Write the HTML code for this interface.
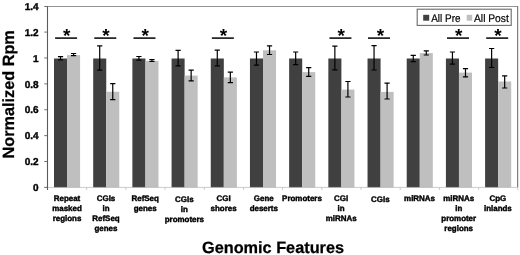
<!DOCTYPE html>
<html lang="en"><head><meta charset="utf-8"><title>Genomic Features</title>
<style>html,body{margin:0;padding:0;background:#fff}body{width:520px;height:255px;overflow:hidden}svg{display:block;filter:blur(0.45px)}text{font-family:"Liberation Sans",sans-serif;fill:#000;text-rendering:geometricPrecision}.b{font-weight:bold;stroke:#000;stroke-width:0.25px}</style>
</head><body>
<svg width="520" height="255" viewBox="0 0 520 255">
<rect x="0" y="0" width="520" height="255" fill="#ffffff"/>
<path d="M47.5 6.5H517.8" fill="none" stroke="#787878" stroke-width="0.8"/>
<path d="M517.70 6.2V187.4" fill="none" stroke="#626262" stroke-width="1"/>
<rect x="54.00" y="58.5" width="13.05" height="128.90" fill="#404040"/>
<rect x="67.05" y="55.1" width="13.05" height="132.30" fill="#bfbfbf"/>
<rect x="93.19" y="58.5" width="13.05" height="128.90" fill="#404040"/>
<rect x="106.24" y="91.7" width="13.05" height="95.70" fill="#bfbfbf"/>
<rect x="132.38" y="58.5" width="13.05" height="128.90" fill="#404040"/>
<rect x="145.43" y="60.9" width="13.05" height="126.50" fill="#bfbfbf"/>
<rect x="171.57" y="58.5" width="13.05" height="128.90" fill="#404040"/>
<rect x="184.62" y="75.6" width="13.05" height="111.80" fill="#bfbfbf"/>
<rect x="210.76" y="58.5" width="13.05" height="128.90" fill="#404040"/>
<rect x="223.81" y="77.4" width="13.05" height="110.00" fill="#bfbfbf"/>
<rect x="249.95" y="58.5" width="13.05" height="128.90" fill="#404040"/>
<rect x="263.00" y="50.3" width="13.05" height="137.10" fill="#bfbfbf"/>
<rect x="289.15" y="58.5" width="13.05" height="128.90" fill="#404040"/>
<rect x="302.20" y="72.1" width="13.05" height="115.30" fill="#bfbfbf"/>
<rect x="328.34" y="58.5" width="13.05" height="128.90" fill="#404040"/>
<rect x="341.39" y="89.6" width="13.05" height="97.80" fill="#bfbfbf"/>
<rect x="367.53" y="58.5" width="13.05" height="128.90" fill="#404040"/>
<rect x="380.58" y="91.9" width="13.05" height="95.50" fill="#bfbfbf"/>
<rect x="406.72" y="58.5" width="13.05" height="128.90" fill="#404040"/>
<rect x="419.77" y="53.1" width="13.05" height="134.30" fill="#bfbfbf"/>
<rect x="445.91" y="58.5" width="13.05" height="128.90" fill="#404040"/>
<rect x="458.96" y="72.6" width="13.05" height="114.80" fill="#bfbfbf"/>
<rect x="485.10" y="58.5" width="13.05" height="128.90" fill="#404040"/>
<rect x="498.15" y="81.5" width="13.05" height="105.90" fill="#bfbfbf"/>
<path d="M44.3 187.4H517.8" fill="none" stroke="#a8a8a8" stroke-width="0.6"/>
<path d="M47.5 6.2V190.0" fill="none" stroke="#5a5a5a" stroke-width="1.1"/>
<path d="M44.3 187.40H47.5" stroke="#606060" stroke-width="0.9"/>
<text class="b" style="stroke-width:0.4px" x="38.6" y="191.10" font-size="10" text-anchor="end">0</text>
<path d="M44.3 161.51H47.5" stroke="#606060" stroke-width="0.9"/>
<text class="b" style="stroke-width:0.4px" x="38.6" y="165.21" font-size="10" text-anchor="end">0.2</text>
<path d="M44.3 135.63H47.5" stroke="#606060" stroke-width="0.9"/>
<text class="b" style="stroke-width:0.4px" x="38.6" y="139.33" font-size="10" text-anchor="end">0.4</text>
<path d="M44.3 109.74H47.5" stroke="#606060" stroke-width="0.9"/>
<text class="b" style="stroke-width:0.4px" x="38.6" y="113.44" font-size="10" text-anchor="end">0.6</text>
<path d="M44.3 83.86H47.5" stroke="#606060" stroke-width="0.9"/>
<text class="b" style="stroke-width:0.4px" x="38.6" y="87.56" font-size="10" text-anchor="end">0.8</text>
<path d="M44.3 57.97H47.5" stroke="#606060" stroke-width="0.9"/>
<text class="b" style="stroke-width:0.4px" x="38.6" y="61.67" font-size="10" text-anchor="end">1</text>
<path d="M44.3 32.09H47.5" stroke="#606060" stroke-width="0.9"/>
<text class="b" style="stroke-width:0.4px" x="38.6" y="35.79" font-size="10" text-anchor="end">1.2</text>
<path d="M44.3 6.50H47.5" stroke="#606060" stroke-width="0.9"/>
<text class="b" style="stroke-width:0.4px" x="38.6" y="9.90" font-size="10" text-anchor="end">1.4</text>
<path d="M86.69 187.4V190.0" stroke="#b4b4b4" stroke-width="0.7"/>
<path d="M125.88 187.4V190.0" stroke="#b4b4b4" stroke-width="0.7"/>
<path d="M165.07 187.4V190.0" stroke="#b4b4b4" stroke-width="0.7"/>
<path d="M204.27 187.4V190.0" stroke="#b4b4b4" stroke-width="0.7"/>
<path d="M243.46 187.4V190.0" stroke="#b4b4b4" stroke-width="0.7"/>
<path d="M282.65 187.4V190.0" stroke="#b4b4b4" stroke-width="0.7"/>
<path d="M321.84 187.4V190.0" stroke="#b4b4b4" stroke-width="0.7"/>
<path d="M361.03 187.4V190.0" stroke="#b4b4b4" stroke-width="0.7"/>
<path d="M400.22 187.4V190.0" stroke="#b4b4b4" stroke-width="0.7"/>
<path d="M439.42 187.4V190.0" stroke="#b4b4b4" stroke-width="0.7"/>
<path d="M478.61 187.4V190.0" stroke="#b4b4b4" stroke-width="0.7"/>
<path d="M517.80 187.4V190.0" stroke="#b4b4b4" stroke-width="0.7"/>
<path d="M60.52 56.7V59.8M57.92 56.7H63.12M57.92 59.8H63.12" fill="none" stroke="#000" stroke-width="1.2"/>
<path d="M73.57 53.5V55.7M70.97 53.5H76.17M70.97 55.7H76.17" fill="none" stroke="#000" stroke-width="1.2"/>
<path d="M55.10 38.1H77.10" stroke="#000" stroke-width="1.5"/>
<text class="b" style="stroke:none" x="66.80" y="41.5" font-size="19" text-anchor="middle">*</text>
<text class="b" style="stroke-width:0.4px" x="67.00" y="201.20" font-size="7.95" text-anchor="middle">Repeat</text>
<text class="b" style="stroke-width:0.4px" x="67.00" y="211.15" font-size="7.95" text-anchor="middle">masked</text>
<text class="b" style="stroke-width:0.4px" x="67.00" y="221.10" font-size="7.95" text-anchor="middle">regions</text>
<path d="M99.71 45.8V70.1M97.11 45.8H102.31M97.11 70.1H102.31" fill="none" stroke="#000" stroke-width="1.2"/>
<path d="M112.76 83.7V99.6M110.16 83.7H115.36M110.16 99.6H115.36" fill="none" stroke="#000" stroke-width="1.2"/>
<path d="M94.29 38.1H116.29" stroke="#000" stroke-width="1.5"/>
<text class="b" style="stroke:none" x="105.99" y="41.5" font-size="19" text-anchor="middle">*</text>
<text class="b" style="stroke-width:0.4px" x="105.99" y="201.20" font-size="7.95" text-anchor="middle">CGIs</text>
<text class="b" style="stroke-width:0.4px" x="105.99" y="211.15" font-size="7.95" text-anchor="middle">in</text>
<text class="b" style="stroke-width:0.4px" x="105.99" y="221.10" font-size="7.95" text-anchor="middle">RefSeq</text>
<text class="b" style="stroke-width:0.4px" x="105.99" y="231.05" font-size="7.95" text-anchor="middle">genes</text>
<path d="M138.90 56.5V60.2M136.30 56.5H141.50M136.30 60.2H141.50" fill="none" stroke="#000" stroke-width="1.2"/>
<path d="M151.95 59.5V61.4M149.35 59.5H154.55M149.35 61.4H154.55" fill="none" stroke="#000" stroke-width="1.2"/>
<path d="M133.48 38.1H155.48" stroke="#000" stroke-width="1.5"/>
<text class="b" style="stroke:none" x="145.18" y="41.5" font-size="19" text-anchor="middle">*</text>
<text class="b" style="stroke-width:0.4px" x="145.18" y="201.20" font-size="7.95" text-anchor="middle">RefSeq</text>
<text class="b" style="stroke-width:0.4px" x="145.18" y="211.15" font-size="7.95" text-anchor="middle">genes</text>
<path d="M178.10 50.4V65.9M175.50 50.4H180.70M175.50 65.9H180.70" fill="none" stroke="#000" stroke-width="1.2"/>
<path d="M191.15 70.2V80.9M188.55 70.2H193.75M188.55 80.9H193.75" fill="none" stroke="#000" stroke-width="1.2"/>
<text class="b" style="stroke-width:0.4px" x="184.37" y="201.90" font-size="7.95" text-anchor="middle">CGIs</text>
<text class="b" style="stroke-width:0.4px" x="184.37" y="211.85" font-size="7.95" text-anchor="middle">in</text>
<text class="b" style="stroke-width:0.4px" x="184.37" y="221.80" font-size="7.95" text-anchor="middle">promoters</text>
<path d="M217.29 50.1V65.8M214.69 50.1H219.89M214.69 65.8H219.89" fill="none" stroke="#000" stroke-width="1.2"/>
<path d="M230.34 72.1V82.7M227.74 72.1H232.94M227.74 82.7H232.94" fill="none" stroke="#000" stroke-width="1.2"/>
<path d="M211.86 38.1H233.86" stroke="#000" stroke-width="1.5"/>
<text class="b" style="stroke:none" x="223.56" y="41.5" font-size="19" text-anchor="middle">*</text>
<text class="b" style="stroke-width:0.4px" x="223.56" y="201.20" font-size="7.95" text-anchor="middle">CGI</text>
<text class="b" style="stroke-width:0.4px" x="223.56" y="211.15" font-size="7.95" text-anchor="middle">shores</text>
<path d="M256.48 52.0V65.1M253.88 52.0H259.08M253.88 65.1H259.08" fill="none" stroke="#000" stroke-width="1.2"/>
<path d="M269.53 45.9V54.5M266.93 45.9H272.13M266.93 54.5H272.13" fill="none" stroke="#000" stroke-width="1.2"/>
<text class="b" style="stroke-width:0.4px" x="263.75" y="201.20" font-size="7.95" text-anchor="middle">Gene</text>
<text class="b" style="stroke-width:0.4px" x="263.75" y="211.15" font-size="7.95" text-anchor="middle">deserts</text>
<path d="M295.67 52.0V64.7M293.07 52.0H298.27M293.07 64.7H298.27" fill="none" stroke="#000" stroke-width="1.2"/>
<path d="M308.72 67.6V76.4M306.12 67.6H311.32M306.12 76.4H311.32" fill="none" stroke="#000" stroke-width="1.2"/>
<text class="b" style="stroke-width:0.4px" x="301.95" y="201.20" font-size="7.95" text-anchor="middle">Promoters</text>
<path d="M334.86 46.2V69.8M332.26 46.2H337.46M332.26 69.8H337.46" fill="none" stroke="#000" stroke-width="1.2"/>
<path d="M347.91 81.5V97.0M345.31 81.5H350.51M345.31 97.0H350.51" fill="none" stroke="#000" stroke-width="1.2"/>
<path d="M329.44 38.1H351.44" stroke="#000" stroke-width="1.5"/>
<text class="b" style="stroke:none" x="341.14" y="41.5" font-size="19" text-anchor="middle">*</text>
<text class="b" style="stroke-width:0.4px" x="341.14" y="201.20" font-size="7.95" text-anchor="middle">CGI</text>
<text class="b" style="stroke-width:0.4px" x="341.14" y="211.15" font-size="7.95" text-anchor="middle">in</text>
<text class="b" style="stroke-width:0.4px" x="341.14" y="221.10" font-size="7.95" text-anchor="middle">miRNAs</text>
<path d="M374.05 45.7V70.0M371.45 45.7H376.65M371.45 70.0H376.65" fill="none" stroke="#000" stroke-width="1.2"/>
<path d="M387.10 83.2V99.0M384.50 83.2H389.70M384.50 99.0H389.70" fill="none" stroke="#000" stroke-width="1.2"/>
<path d="M368.03 38.1H390.03" stroke="#000" stroke-width="1.5"/>
<text class="b" style="stroke:none" x="380.33" y="41.5" font-size="19" text-anchor="middle">*</text>
<text class="b" style="stroke-width:0.4px" x="380.33" y="201.70" font-size="7.95" text-anchor="middle">CGIs</text>
<path d="M413.25 55.4V61.7M410.65 55.4H415.85M410.65 61.7H415.85" fill="none" stroke="#000" stroke-width="1.2"/>
<path d="M426.30 50.8V55.0M423.70 50.8H428.90M423.70 55.0H428.90" fill="none" stroke="#000" stroke-width="1.2"/>
<text class="b" style="stroke-width:0.4px" x="419.52" y="201.20" font-size="7.95" text-anchor="middle">miRNAs</text>
<path d="M452.44 52.0V64.2M449.84 52.0H455.04M449.84 64.2H455.04" fill="none" stroke="#000" stroke-width="1.2"/>
<path d="M465.49 68.6V76.9M462.89 68.6H468.09M462.89 76.9H468.09" fill="none" stroke="#000" stroke-width="1.2"/>
<path d="M447.01 38.1H469.01" stroke="#000" stroke-width="1.5"/>
<text class="b" style="stroke:none" x="458.71" y="41.5" font-size="19" text-anchor="middle">*</text>
<text class="b" style="stroke-width:0.4px" x="458.71" y="201.20" font-size="7.95" text-anchor="middle">miRNAs</text>
<text class="b" style="stroke-width:0.4px" x="458.71" y="211.15" font-size="7.95" text-anchor="middle">in</text>
<text class="b" style="stroke-width:0.4px" x="458.71" y="221.10" font-size="7.95" text-anchor="middle">promoter</text>
<text class="b" style="stroke-width:0.4px" x="458.71" y="231.05" font-size="7.95" text-anchor="middle">regions</text>
<path d="M491.63 48.5V67.5M489.03 48.5H494.23M489.03 67.5H494.23" fill="none" stroke="#000" stroke-width="1.2"/>
<path d="M504.68 75.8V88.0M502.08 75.8H507.28M502.08 88.0H507.28" fill="none" stroke="#000" stroke-width="1.2"/>
<path d="M486.20 38.1H508.20" stroke="#000" stroke-width="1.5"/>
<text class="b" style="stroke:none" x="497.90" y="41.5" font-size="19" text-anchor="middle">*</text>
<text class="b" style="stroke-width:0.4px" x="497.90" y="201.20" font-size="7.95" text-anchor="middle">CpG</text>
<text class="b" style="stroke-width:0.4px" x="497.90" y="211.15" font-size="7.95" text-anchor="middle">inlands</text>
<rect x="417.2" y="9.2" width="94" height="16.2" fill="#fff" stroke="#6a6a6a" stroke-width="1.1"/>
<rect x="423.2" y="14.8" width="6.0" height="5.9" fill="#404040"/>
<text style="stroke:#000;stroke-width:0.2px" x="431.2" y="21.5" font-size="11" textLength="29.3" lengthAdjust="spacingAndGlyphs">All Pre</text>
<rect x="466.7" y="14.8" width="5.5" height="5.9" fill="#bfbfbf"/>
<text style="stroke:#000;stroke-width:0.2px" x="474" y="21.5" font-size="11" textLength="34.8" lengthAdjust="spacingAndGlyphs">All Post</text>
<text class="b" x="273" y="252.6" font-size="16.3" text-anchor="middle">Genomic Features</text>
<text class="b" transform="translate(14.3 94.3) rotate(-90)" font-size="16.25" text-anchor="middle">Normalized Rpm</text>
</svg>
</body></html>
